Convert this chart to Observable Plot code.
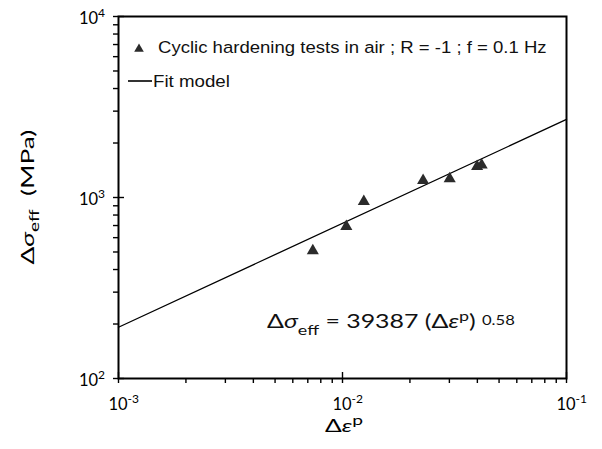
<!DOCTYPE html>
<html><head><meta charset="utf-8">
<script src="https://cdn.jsdelivr.net/npm/d3@7"></script>
<script src="https://cdn.jsdelivr.net/npm/@observablehq/plot@0.6"></script>
<style>html,body{margin:0;padding:0;background:#fff}svg{display:block}</style>
</head><body><div id="chart"></div>
<script>
// Data
const strain = [0.00737, 0.0104, 0.01245, 0.0229, 0.0301, 0.0399, 0.0418];
const stress = [508, 692, 949, 1240, 1270, 1484, 1512];
const fitStrain = [0.001, 0.1];
const fitStress = [192, 2700];
const xMajor = [0.001, 0.01, 0.1];
const xMajorExp = ["-3", "-2", "-1"];
const xMinor = [0.002, 0.003, 0.004, 0.005, 0.006, 0.007, 0.008, 0.009,
                0.02, 0.03, 0.04, 0.05, 0.06, 0.07, 0.08, 0.09];
const yMajor = [100, 1000, 10000];
const yMajorExp = ["2", "3", "4"];
const yMinor = [200, 300, 400, 500, 600, 700, 800, 900,
                2000, 3000, 4000, 5000, 6000, 7000, 8000, 9000];
const legendLabels = ["Cyclic hardening tests in air ; R = -1 ; f = 0.1 Hz", "Fit model"];
const equationCoef = "39387";
const equationExp = "0.58";

const points = strain.map((x, i) => ({x, y: stress[i]}));
const fit = fitStrain.map((x, i) => ({x, y: fitStress[i]}));
const noLab = () => "";
const tickW = 1.4;

const chart = Plot.plot({
  width: 602, height: 449,
  marginLeft: 118, marginRight: 36, marginTop: 16, marginBottom: 71,
  x: {type: "log", domain: [0.001, 0.1]},
  y: {type: "log", domain: [100, 10000]},
  style: {background: "white", color: "black"},
  marks: [
    Plot.line(fit, {x: "x", y: "y", stroke: "black", strokeWidth: 1.3}),
    Plot.dot(points, {x: "x", y: "y", symbol: "triangle", r: 4.5, fill: "#2b2b2b", stroke: "none"}),
    Plot.axisX({ticks: xMajor, tickSize: 5, tickFormat: noLab, label: null, strokeWidth: tickW}),
    Plot.axisX({ticks: xMajor, tickSize: -6, tickFormat: noLab, label: null, strokeWidth: tickW}),
    Plot.axisX({ticks: xMinor, tickSize: 5, tickFormat: noLab, label: null, strokeWidth: tickW}),
    Plot.axisY({ticks: yMajor, tickSize: 5, tickFormat: noLab, label: null, strokeWidth: tickW}),
    Plot.axisY({ticks: yMajor, tickSize: -6, tickFormat: noLab, label: null, strokeWidth: tickW}),
    Plot.axisY({ticks: yMinor, tickSize: 5, tickFormat: noLab, label: null, strokeWidth: tickW}),
    Plot.frame({stroke: "black", strokeWidth: 2})
  ]
});
document.getElementById("chart").appendChild(chart);

const svg = d3.select(chart);
const sx = chart.scale("x"), sy = chart.scale("y");
const layer = svg.append("g");

// parts: [text, {italic, fs, off}] ; off = baseline offset (positive = down)
function richText(x, y, parts, o) {
  const t = layer.append("text")
    .attr("font-family", o.family).attr("font-size", o.size)
    .attr("fill", o.fill || "black").attr("text-anchor", "start");
  let cur = 0;
  const spans = [];
  for (const [s, st = {}] of parts) {
    const off = st.off || 0;
    const ts = t.append("tspan").text(s).attr("dy", off - cur);
    cur = off;
    if (st.fs) ts.attr("font-size", st.fs);
    if (st.italic) ts.attr("font-style", "italic");
    spans.push(ts);
  }
  const w = t.node().getComputedTextLength();
  const k = o.target ? o.target / w : (o.k || 1);
  let ox = 0;
  if (o.anchor === "middle") ox = -w / 2;
  else if (o.anchor === "end") ox = -w;
  else if (o.anchor === "first") ox = -spans[0].node().getComputedTextLength() / 2;
  t.attr("transform", `translate(${x},${y}) rotate(${o.rotate || 0}) scale(${k},1) translate(${ox},0)`);
  return t;
}

const FONT = "Lato, 'Open Sans', sans-serif";
// tick labels
const x0 = sx.apply(xMajor[0]);
const yBottom = sy.apply(yMajor[0]);
xMajor.forEach((v, i) => {
  richText(sx.apply(v), yBottom + 32, [["10"], [xMajorExp[i], {fs: 12, off: -7}]],
    {family: FONT, size: 16.5, anchor: "first"});
});
yMajor.forEach((v, i) => {
  richText(x0 - 13, sy.apply(v) + 8, [["10"], [yMajorExp[i], {fs: 12, off: -7}]],
    {family: FONT, size: 16.5, anchor: "end"});
});

// axis titles
richText(sx.apply(xMajor[1]) + 2, yBottom + 54,
  [["Δ"], ["ε", {italic: true}], ["p", {fs: 14, off: -7}]],
  {family: FONT, size: 18, anchor: "middle", target: 38});
richText(x0 - 84, (sy.apply(yMajor[0]) + sy.apply(yMajor[2])) / 2,
  [["Δ"], ["σ", {italic: true}], ["eff", {fs: 13, off: 5}], ["  (MPa)", {off: 0}]],
  {family: FONT, size: 18, anchor: "middle", rotate: -90, target: 135});

// legend
layer.append("path")
  .attr("d", d3.symbol(d3.symbolTriangle, 40)())
  .attr("transform", `translate(${x0 + 21},${sy.apply(yMajor[2]) + 33})`)
  .attr("fill", "#2b2b2b");
richText(x0 + 40, sy.apply(yMajor[2]) + 37, [[legendLabels[0]]],
  {family: "Liberation Sans, Arial", size: 16.5, target: 389, fill: "#111"});
layer.append("line")
  .attr("x1", x0 + 10).attr("x2", x0 + 34)
  .attr("y1", sy.apply(yMajor[2]) + 65).attr("y2", sy.apply(yMajor[2]) + 65)
  .attr("stroke", "black").attr("stroke-width", 1.6);
richText(x0 + 35, sy.apply(yMajor[2]) + 71, [[legendLabels[1]]],
  {family: "Liberation Sans, Arial", size: 16.5, target: 77, fill: "#111"});

// equation
richText(x0 + 149, yBottom - 50,
  [["Δ"], ["σ", {italic: true}], ["eff", {fs: 14, off: 7}], [" = " + equationCoef + " (Δ", {off: 0}],
   ["ε", {italic: true}], ["p", {fs: 14, off: -7}], [")", {off: 0}], [" "], [equationExp, {fs: 13, off: -3}]],
  {family: FONT, size: 19.5, target: 248, fill: "#111"});
</script>
</body></html>
